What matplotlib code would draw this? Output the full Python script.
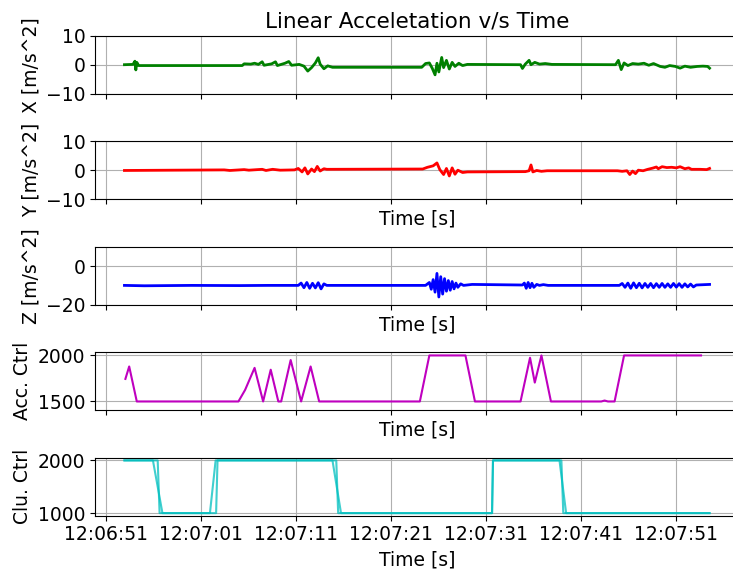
import datetime as dt
import matplotlib
matplotlib.use("Agg")
import matplotlib.pyplot as plt
import matplotlib.dates as mdates

# seconds after 12:06:00
t_start = dt.datetime(2021, 1, 1, 12, 6, 0)

x_t = [52.9, 53.8, 54.0, 54.1, 54.2, 54.4, 65.3, 65.5, 66.2, 66.6, 67.0, 67.4, 67.6, 68.4, 68.8,
       69.0, 69.8, 70.2, 70.5, 71.3, 71.8, 72.2, 72.6, 73.0, 73.3, 73.5, 73.9, 74.3, 74.8, 84.2,
       84.6, 85.0, 85.3, 85.6, 85.8, 86.0, 86.3, 86.5, 86.8, 87.1, 87.4, 87.7, 88.1, 88.5, 89.0,
       94.6, 94.8, 95.1, 95.5, 95.7, 96.1, 96.6, 97.2, 97.9, 104.6, 104.9, 105.2, 105.5, 105.9,
       106.4, 107.0, 107.6, 108.1, 108.6, 109.3, 109.8, 110.3, 110.9, 111.4, 111.9, 112.5, 113.2,
       113.8, 114.3, 114.5]
x_acc = [0.0, 0.1, 1.2, -1.8, 0.8, -0.3, -0.3, 0.3, 0.2, 0.5, 0.1, 1.0, -0.2, 0.3, 1.0,
         -0.3, 0.5, 1.1, -0.2, 0.1, -0.5, -2.2, -1.0, 0.6, 2.4, 0.2, -1.4, -0.4, -0.9, -0.9,
         0.4, 0.6, -1.2, -3.5, 0.5, -2.5, 2.5, -1.0, 1.5, -1.5, 0.8, -0.6, 0.5, -0.3, 0.1,
         0.0, -1.3, 0.2, 1.5, 0.0, 0.8, 0.2, 0.4, 0.1, 0.0, 1.5, -1.7, 0.6, -0.3,
         0.4, 0.2, 0.5, -0.2, 0.4, -0.6, -0.9, -0.3, -0.6, -1.2, -0.5, -0.9, -0.6,
         -0.5, -0.6, -1.2]

y_t = [52.9, 58.0, 63.4, 64.0, 65.5, 66.0, 67.4, 67.8, 68.5, 69.3, 70.8, 71.2, 71.6, 71.9, 72.2,
       72.6, 72.9, 73.2, 73.5, 73.9, 74.2, 84.3, 84.8, 85.4, 85.8, 86.1, 86.5, 86.8, 87.1, 87.4,
       87.7, 88.0, 88.5, 89.0, 95.1, 95.5, 95.7, 95.9, 96.3, 96.8, 97.4, 104.8, 105.3, 105.8,
       106.1, 106.4, 106.7, 107.0, 107.5, 108.0, 108.5, 108.9, 109.1, 109.5, 110.0, 110.5, 111.0,
       111.4, 111.9, 112.3, 112.6, 113.5, 114.2, 114.5]
y_acc = [-0.1, 0.0, 0.1, -0.1, 0.2, 0.0, 0.3, -0.1, 0.3, 0.0, 0.1, 0.6, -0.6, 0.8, -1.3,
         0.4, -0.5, 1.3, -0.3, 0.5, 0.3, 0.4, 1.0, 1.5, 2.5, 0.2, -1.5, 0.6, -2.0, 0.8,
         -1.4, 0.0, -0.8, -0.6, -0.5, -0.2, 1.8, -0.6, -0.1, -0.4, -0.2, -0.2, -0.4, -0.2,
         -1.5, -0.3, -1.2, 0.0, -0.2, 0.3, 0.7, 1.1, 0.5, 1.2, 0.9, 1.0, 0.8,
         1.2, 0.5, 0.8, 0.3, 0.3, 0.2, 0.6]

z_t = [52.9, 55.0, 60.0, 65.0, 68.0, 71.2, 71.5, 71.8, 72.1, 72.4, 72.7, 73.0, 73.3, 73.6, 73.9,
       74.2, 84.6, 85.0, 85.2, 85.4, 85.6, 85.8, 86.0, 86.2, 86.4, 86.6, 86.8, 87.0, 87.2, 87.4,
       87.6, 87.8, 88.0, 88.3, 88.6, 89.5, 94.8, 95.0, 95.2, 95.4, 95.6, 95.8, 96.0, 96.3, 96.6,
       97.0, 97.5, 105.0, 105.3, 105.6, 105.9, 106.2, 106.5, 106.8, 107.1, 107.4, 107.7, 108.0,
       108.3, 108.6, 108.9, 109.2, 109.5, 109.8, 110.1, 110.4, 110.7, 111.0, 111.3, 111.6, 111.9,
       112.2, 112.5, 112.8, 113.1, 114.5]
z_acc = [-10.0, -10.2, -10.0, -10.1, -10.0, -10.0, -8.8, -11.2, -8.5, -11.5, -8.9, -11.3, -8.6, -11.8, -9.2,
         -10.0, -10.0, -8.5, -12.0, -7.0, -13.5, -3.8, -16.0, -5.5, -14.5, -6.5, -13.0, -7.5, -12.5, -8.0,
         -11.8, -8.8, -11.0, -9.2, -10.0, -9.5, -9.8, -8.8, -11.5, -8.5, -11.2, -8.9, -11.0, -9.5, -10.0,
         -9.6, -10.0, -10.0, -9.0, -11.0, -8.8, -11.5, -8.7, -11.2, -8.9, -11.3, -9.0, -11.0,
         -9.0, -11.2, -9.1, -11.0, -9.0, -11.0, -9.2, -11.0, -9.0, -10.9, -9.1, -11.0, -9.2,
         -10.8, -9.3, -10.8, -9.8, -9.5]

acc_t = [53.0, 53.4, 54.2, 64.9, 65.6, 66.6, 67.5, 68.3, 69.1, 69.4, 70.4, 71.5, 72.5, 73.4,
         84.0, 85.0, 88.8, 89.8, 94.6, 95.6, 96.1, 96.8, 97.8, 103.1, 103.45, 103.8, 104.5,
         105.5, 113.6]
acc_ctrl = [1745, 1880, 1500, 1500, 1625, 1865, 1500, 1845, 1500, 1500, 1950, 1500, 1880, 1500,
            1500, 2000, 2000, 1500, 1500, 1975, 1705, 2000, 1500, 1500, 1510, 1500, 1500,
            2000, 2000]

clu_t_a = [52.9, 55.9, 56.9, 61.9, 62.5, 74.8, 75.7, 91.6, 91.7, 98.7, 99.4, 114.5]
clu_ctrl_a = [2000, 2000, 1000, 1000, 2000, 2000, 1000, 1000, 2000, 2000, 1000, 1000]
clu_t_b = [52.9, 56.4, 56.6, 62.55, 62.7, 75.2, 75.4, 91.6, 91.7, 98.9, 99.1, 114.5]
clu_ctrl_b = [2000, 2000, 1000, 1000, 2000, 2000, 1000, 1000, 2000, 2000, 1000, 1000]


def stamps(secs):
    return [t_start + dt.timedelta(seconds=s) for s in secs]


plt.rcParams["font.size"] = 13.5

fig = plt.figure(figsize=(7.33, 5.73), dpi=100)
left, width, height = 0.1296, 0.8786, 0.1012
bottoms = [0.8365, 0.6524, 0.4682, 0.2841, 0.0999]
axs = []
for i, b in enumerate(bottoms):
    ax = fig.add_axes([left, b, width, height], sharex=axs[0] if axs else None)
    axs.append(ax)

axs[0].plot(stamps(x_t), x_acc, color="g", lw=2)
axs[1].plot(stamps(y_t), y_acc, color="r", lw=2)
axs[2].plot(stamps(z_t), z_acc, color="b", lw=2)
axs[3].plot(stamps(acc_t), acc_ctrl, color="m", lw=1.5)
axs[4].plot(stamps(clu_t_a), clu_ctrl_a, color="c", lw=1.5, alpha=0.75)
axs[4].plot(stamps(clu_t_b), clu_ctrl_b, color="c", lw=1.5, alpha=0.75)

axs[0].set_title("Linear Acceletation v/s Time", fontsize=15.5)
axs[0].set_ylabel("X [m/s^2]")
axs[1].set_ylabel("Y [m/s^2]")
axs[2].set_ylabel("Z [m/s^2]")
axs[3].set_ylabel("Acc. Ctrl")
axs[4].set_ylabel("Clu. Ctrl")

axs[0].set_ylim(-10, 10)
axs[0].set_yticks([-10, 0, 10])
axs[1].set_ylim(-10, 10)
axs[1].set_yticks([-10, 0, 10])
axs[2].set_ylim(-20, 10)
axs[2].set_yticks([-20, 0])
axs[3].set_ylim(1405, 2035)
axs[3].set_yticks([1500, 2000])
axs[4].set_ylim(950, 2050)
axs[4].set_yticks([1000, 2000])

for i, ax in enumerate(axs):
    ax.grid(True)
    if i > 0:
        ax.set_xlabel("Time [s]")
    if i < 4:
        ax.tick_params(labelbottom=False)

axs[4].xaxis.set_major_locator(mdates.SecondLocator(bysecond=[1, 11, 21, 31, 41, 51]))
axs[4].xaxis.set_major_formatter(mdates.DateFormatter("%H:%M:%S"))
axs[4].set_xlim(t_start + dt.timedelta(seconds=49.8), t_start + dt.timedelta(seconds=117.6))

fig.savefig("out.png", dpi=100)
